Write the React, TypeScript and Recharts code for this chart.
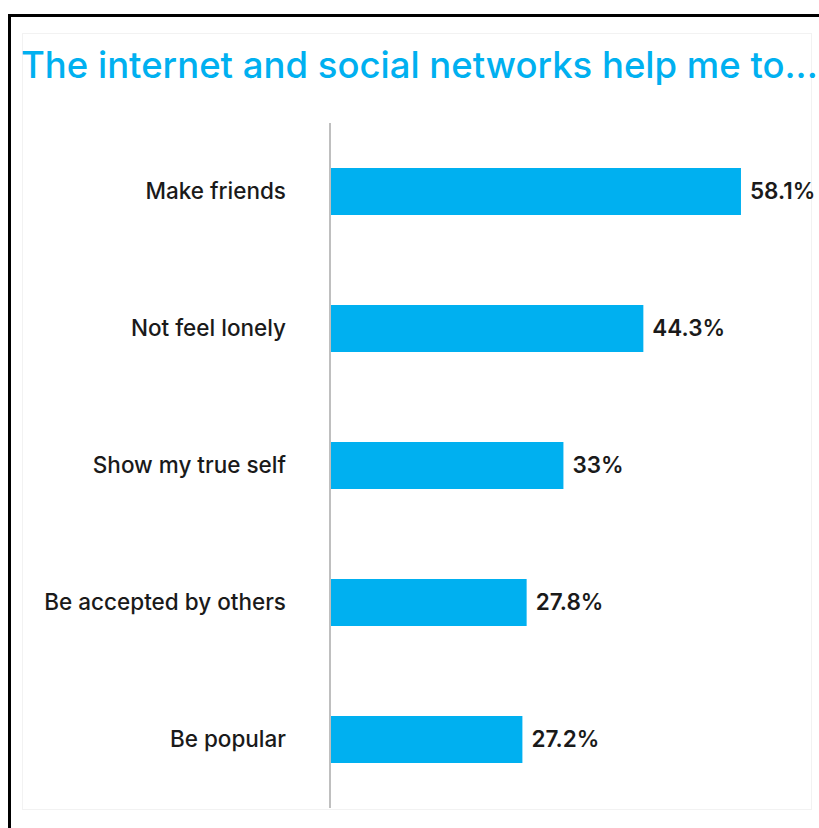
import React from 'react';
import { BarChart, Bar, XAxis, YAxis, LabelList } from 'recharts';

// Survey answers, top to bottom
const categories = [
  'Make friends',
  'Not feel lonely',
  'Show my true self',
  'Be accepted by others',
  'Be popular',
];
const shares = [58.1, 44.3, 33, 27.8, 27.2];

const rows = categories.map((name, i) => ({ name, value: shares[i] }));

const CYAN = '#00B0F0';
const FONT = 'Inter, "Noto Sans", sans-serif';

export default function App() {
  return (
    <div style={{ position: 'fixed', left: 0, top: 0, width: 819, height: 828, overflow: 'hidden', background: '#fff' }}>
      {/* black frame that runs off the right and bottom edges */}
      <div style={{ position: 'absolute', left: 8, top: 14, width: 900, height: 900, border: '3px solid #000', boxSizing: 'border-box' }} />
      {/* faint inner box */}
      <div style={{ position: 'absolute', left: 22, top: 33, width: 790, height: 777, border: '1px solid #f2f2f2', boxSizing: 'border-box' }} />
      <div
        style={{
          position: 'absolute',
          left: 21,
          top: 43,
          fontFamily: FONT,
          fontSize: 36.5,
          fontWeight: 500,
          color: CYAN,
          whiteSpace: 'nowrap',
          lineHeight: '44px',
        }}
      >
        The internet and social networks help me to...
      </div>
      <div style={{ position: 'absolute', left: 8, top: 8 }}>
        <BarChart
          width={811}
          height={812}
          data={rows}
          layout="vertical"
          margin={{ top: 115, right: 8, bottom: 12, left: 0 }}
        >
          <XAxis type="number" domain={[0, 68]} hide />
          <YAxis
            type="category"
            dataKey="name"
            width={322}
            axisLine={{ stroke: '#bfbfbf', strokeWidth: 2 }}
            tickLine={false}
            tickMargin={38}
            tick={{ fill: '#1a1a1a', fontSize: 22.5, fontFamily: FONT, fontWeight: 500 }}
          />
          <Bar dataKey="value" fill={CYAN} barSize={47} isAnimationActive={false}>
            <LabelList
              dataKey="value"
              position="right"
              offset={9}
              formatter={(v: number) => `${v}%`}
              style={{ fill: '#1a1a1a', fontSize: 22.5, fontFamily: FONT, fontWeight: 600 }}
            />
          </Bar>
        </BarChart>
      </div>
    </div>
  );
}
